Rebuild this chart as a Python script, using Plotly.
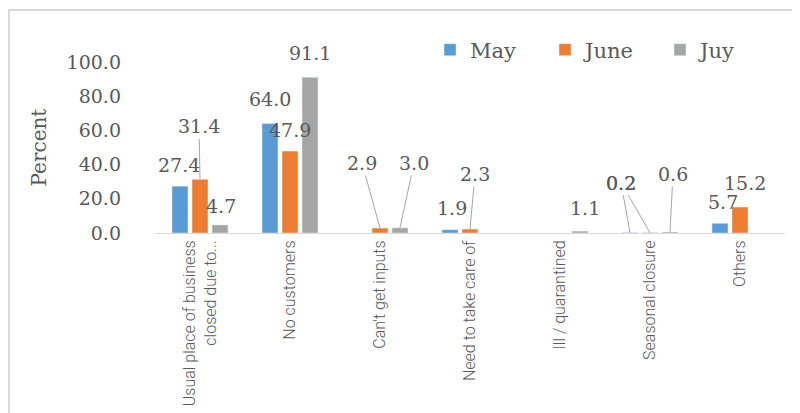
import plotly.graph_objects as go

categories = ["Usual place of business<br>closed due to...", "No customers",
              "Can't get inputs", "Need to take care of", "Ill / quarantined",
              "Seasonal closure", "Others"]
series_names = ["May", "June", "Juy"]
may = [27.4, 64.0, None, 1.9, None, 0.2, 5.7]
june = [31.4, 47.9, 2.9, 2.3, None, 0.2, 15.2]
july = [4.7, 91.1, 3.0, None, 1.1, 0.6, None]
y_ticks = [0, 20, 40, 60, 80, 100]

colors = ["#5B9BD5", "#ED7D31", "#A5A5A5"]
serif = "DejaVu Serif, Liberation Serif, serif"
sans = "Roboto, Liberation Sans, sans-serif"
text_grey = "#595959"

# label offsets (px) from the bar top: (ax, ay, leader line?)
label_pos = {
    0: {0: (-1, -21, False), 1: (0, -25, False), 3: (2, -22, False),
        5: (-9, -50, True), 6: (3, -21, False)},
    1: {0: (-1, -53, True), 1: (0, -21, False), 2: (-18, -65, True),
        3: (5, -55, True), 5: (-29, -50, True), 6: (5, -24, False)},
    2: {0: (1, -19, False), 1: (0, -24, False), 2: (14, -65, True),
        4: (5, -23, False), 5: (3, -58, True)},
}
slot_shift = [-20, 0, 20]

fig = go.Figure()
for name, vals, col in zip(series_names, [may, june, july], colors):
    fig.add_trace(go.Bar(x=categories, y=vals, name=name, marker_color=col))

annotations = []
for s, vals in enumerate([may, june, july]):
    for i, v in enumerate(vals):
        if v is None:
            continue
        ax, ay, line = label_pos[s][i]
        annotations.append(dict(
            x=categories[i], y=v, xref="x", yref="y", xshift=slot_shift[s],
            text=f"{v:.1f}", showarrow=True, arrowhead=0, arrowwidth=1,
            arrowcolor="#A6A6A6" if line else "rgba(0,0,0,0)",
            ax=ax, ay=ay, standoff=0,
            font=dict(family=serif, size=19, color=text_grey)))

annotations.append(dict(
    x=(38 - 155) / 630, y=0.5, xref="paper", yref="paper", text="Percent",
    textangle=-90, showarrow=False, xanchor="center", yanchor="middle",
    font=dict(family=serif, size=20, color=text_grey)))

# page body has an 8px margin, so the figure is 8px smaller each way
fig.update_layout(
    width=792, height=405,
    margin=dict(l=147, r=15, t=54, b=180, autoexpand=False),
    paper_bgcolor="white", plot_bgcolor="white",
    barmode="group", bargap=0.333, bargroupgap=0.2,
    showlegend=True,
    legend=dict(orientation="h", x=(430 - 155) / 630, y=(233 - 50) / 171,
                xanchor="left", yanchor="middle",
                entrywidth=70, entrywidthmode="pixels",
                font=dict(family=serif, size=21, color=text_grey),
                traceorder="normal"),
    annotations=annotations,
    shapes=[dict(type="rect", xref="paper", yref="paper",
                 x0=(9 - 155) / 630, x1=(802 - 155) / 630,
                 y0=(233 - 416) / 171, y1=(233 - 10) / 171,
                 line=dict(color="#D9D9D9", width=2), layer="below")],
)
fig.update_xaxes(showline=True, linecolor="#D9D9D9", linewidth=1,
                 tickangle=-90, ticks="",
                 tickfont=dict(family=sans, size=16, color=text_grey, weight=300))
fig.update_yaxes(range=[0, 100], tickvals=y_ticks, tickformat=".1f",
                 showgrid=False, zeroline=False, showline=False,
                 ticklabelstandoff=33,
                 tickfont=dict(family=serif, size=19, color=text_grey))

fig.write_html("out.html")
